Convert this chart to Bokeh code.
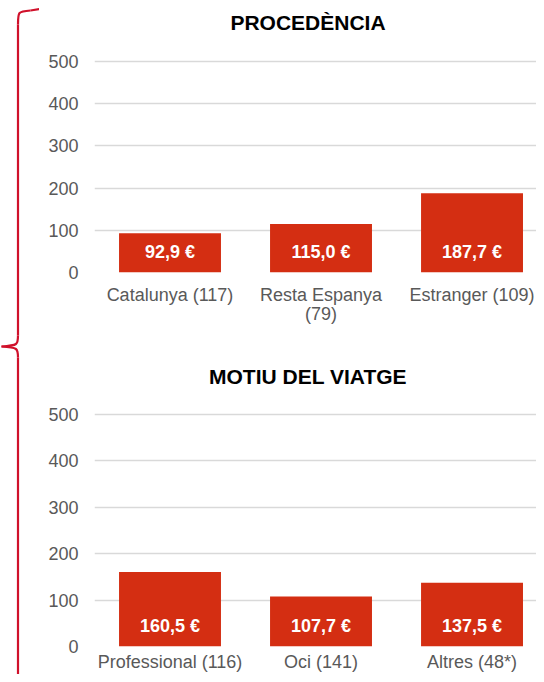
from bokeh.plotting import figure
from bokeh.models import Range1d, ColumnDataSource, FixedTicker
from bokeh.layouts import row, column
from bokeh.core.properties import value
from bokeh.embed import file_html
from bokeh.resources import INLINE

# ---- data ----
origin_title = "PROCEDÈNCIA"
origin_cats = ["Catalunya (117)", "Resta Espanya\n(79)", "Estranger (109)"]
origin_vals = [92.9, 115.0, 187.7]

motiu_title = "MOTIU DEL VIATGE"
motiu_cats = ["Professional (116)", "Oci (141)", "Altres (48*)"]
motiu_vals = [160.5, 107.7, 137.5]

y_ticks = [0, 100, 200, 300, 400, 500]

# ---- style ----
FONT = "Liberation Sans"
RED = "#d42e12"
BRACE = "#d0112b"
GRID = "#d9d9d9"
TEXT = "#595959"

TOTAL_H = 674
BRACE_W = 39
LEFT_BORDER = 55
CHART_W = 536 - BRACE_W


def fmt(v):
    return f"{v:.1f}".replace(".", ",") + " €"


def make_panel(title, cats, vals, height, px_top_tick, px_zero, border_bottom,
               label_standoff, title_dy):
    """px_top_tick / px_zero: pixel rows (from figure top) of the 500 and 0 gridlines."""
    xs = [i + 0.5 for i in range(len(cats))]
    top_tick = max(y_ticks)
    y_end = top_tick * px_zero / (px_zero - px_top_tick)   # room above for the title
    p = figure(width=CHART_W, height=height, x_range=Range1d(0, 2.927), y_range=Range1d(0, y_end),
               output_backend="svg", toolbar_location=None,
               min_border_left=LEFT_BORDER, min_border_right=0,
               min_border_top=0, min_border_bottom=border_bottom)
    src = ColumnDataSource(dict(x=xs, top=vals, label=[fmt(v) for v in vals]))
    p.vbar(x="x", top="top", bottom=0, width=0.675, source=src,
           fill_color=RED, line_color=None)
    p.text(x="x", y=0, text="label", source=src, y_offset=-21,
           text_align="center", text_baseline="middle", text_color="white",
           text_font=value(FONT), text_font_size="18px", text_font_style="bold")

    # chart title
    p.text(x=[0], y=[top_tick], text=[title], x_offset=213.5, y_offset=-title_dy,
           text_align="center", text_baseline="middle", text_color="black",
           text_font=value(FONT), text_font_size="21px", text_font_style="bold")

    p.outline_line_color = None
    p.xgrid.visible = False
    p.ygrid.grid_line_color = GRID
    p.ygrid.grid_line_width = 1.3
    p.ygrid.ticker = FixedTicker(ticks=y_ticks)

    p.yaxis.ticker = FixedTicker(ticks=y_ticks)
    p.xaxis.ticker = FixedTicker(ticks=xs)
    p.xaxis.major_label_overrides = {x: c for x, c in zip(xs, cats)}
    for ax in (p.xaxis[0], p.yaxis[0]):
        ax.axis_line_color = None
        ax.major_tick_line_color = None
        ax.minor_tick_line_color = None
        ax.major_tick_out = 0
        ax.major_tick_in = 0
        ax.major_label_text_font = FONT
        ax.major_label_text_font_size = "18px"
        ax.major_label_text_color = TEXT
        ax.major_label_text_line_height = 0.95
        ax.axis_label_standoff = 0
    p.yaxis.major_label_standoff = 16
    p.xaxis.major_label_standoff = label_standoff
    return p


TOP_H = 338
top = make_panel(origin_title, origin_cats, origin_vals, TOP_H, 61, 272, TOP_H - 272, 12, 39)
bottom = make_panel(motiu_title, motiu_cats, motiu_vals, TOTAL_H - TOP_H, 76, 309,
                    TOTAL_H - TOP_H - 309, 5, 38)

# ---- brace (drawn in image pixel coordinates) ----
brace = figure(width=BRACE_W, height=TOTAL_H, x_range=Range1d(0, BRACE_W), y_range=Range1d(TOTAL_H, 0),
               output_backend="svg", toolbar_location=None,
               x_axis_location=None, y_axis_location=None,
               min_border=0, min_border_left=0, min_border_right=0,
               min_border_top=0, min_border_bottom=0)
brace.grid.visible = False
brace.outline_line_color = None
vx = 17.5
mid = 346
kw = dict(line_color=BRACE, line_width=2.2)
# top hook
brace.bezier(x0=[vx], y0=[24], x1=[30], y1=[10], cx0=[vx], cy0=[11], cx1=[vx], cy1=[11], **kw)
brace.segment(x0=[30], y0=[10], x1=[BRACE_W + 1], y1=[8.5], **kw)
# vertical parts
brace.segment(x0=[vx, vx], y0=[24, mid + 11], x1=[vx, vx], y1=[mid - 11, TOTAL_H + 5], **kw)
# middle tip
brace.bezier(x0=[vx, 1], y0=[mid - 11, mid], x1=[1, vx], y1=[mid, mid + 11],
             cx0=[vx, vx], cy0=[mid - 2, mid + 1], cx1=[vx, vx], cy1=[mid - 1, mid + 2], **kw)

layout = row(brace, column(top, bottom, spacing=0), spacing=0)

open("out.html", "w").write(file_html(layout, INLINE))
